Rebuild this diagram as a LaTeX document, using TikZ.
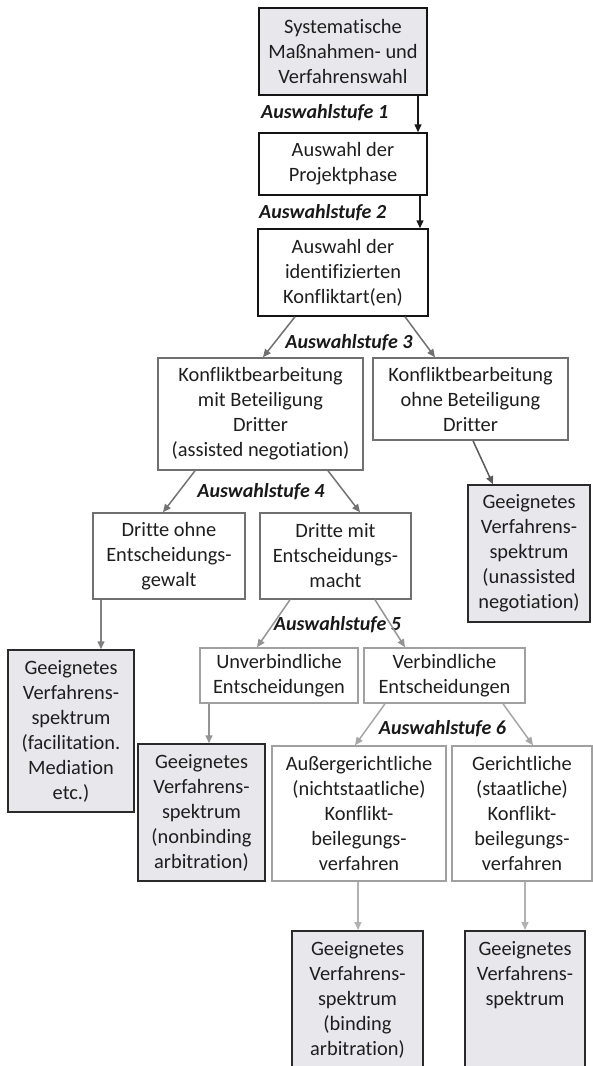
\documentclass[tikz,border=0pt]{standalone}
\usepackage{fontspec}
\setmainfont[Ligatures=NoCommon]{Carlito}
\usetikzlibrary{arrows.meta}
\definecolor{txt}{HTML}{1E1E1E}
\definecolor{fillg}{HTML}{E8E8EC}
\definecolor{midline}{HTML}{707070}
\definecolor{lowline}{HTML}{A0A0A0}
\definecolor{resline}{HTML}{2A2A2A}
\tikzset{
  box/.style={rectangle, align=center, text=txt, font=\fontsize{20.4}{25}\selectfont,
    inner sep=2pt, line width=1.5pt},
  topbox/.style={box, draw=black!92},
  midbox/.style={box, draw=midline},
  lowbox/.style={box, draw=lowline},
  resbox/.style={box, draw=resline, fill=fillg},
  stufe/.style={font=\fontsize{20}{24}\selectfont\bfseries\itshape, text=black!90, inner sep=0pt},
  conn/.style={-{Triangle[length=8pt,width=7pt]}, line width=1.5pt},
}
\begin{document}
\begin{tikzpicture}[x=1pt,y=-1pt]
\useasboundingbox (0,0) rectangle (593,1066);
\clip (0,0) rectangle (593,1066);

% upper chain
\node[topbox, fill=fillg, minimum width=168pt, minimum height=87pt] (b1) at (343,51.5)
  {Systematische\\Maßnahmen- und\\Verfahrenswahl};
\node[topbox, minimum width=168pt, minimum height=62pt] (b2) at (343,164)
  {Auswahl der\\Projektphase};
\node[topbox, minimum width=170pt, minimum height=87pt] (b3) at (343,272.5)
  {Auswahl der\\identifizierten\\Konfliktart(en)};

% level 3
\node[midbox, minimum width=205pt, minimum height=112pt] (b4) at (260.5,414)
  {Konfliktbearbeitung\\mit Beteiligung\\Dritter\\(assisted negotiation)};
\node[midbox, minimum width=195pt, minimum height=82pt] (b5) at (470.5,399)
  {Konfliktbearbeitung\\ohne Beteiligung\\Dritter};
\node[resbox, minimum width=122pt, minimum height=137pt] (b6) at (529,553.5)
  {Geeignetes\\Verfahrens-\\spektrum\\(unassisted\\negotiation)};

% level 4
\node[midbox, minimum width=152pt, minimum height=86pt] (b7) at (169,556)
  {Dritte ohne\\Entscheidungs-\\gewalt};
\node[midbox, minimum width=151pt, minimum height=86pt] (b8) at (335.5,556)
  {Dritte mit\\Entscheidungs-\\macht};
\node[resbox, minimum width=126pt, minimum height=162pt] (b9) at (71,731)
  {Geeignetes\\Verfahrens-\\spektrum\\(facilitation.\\Mediation\\etc.)};

% level 5
\node[lowbox, minimum width=158pt, minimum height=55pt] (b10) at (279,675.5)
  {Unverbindliche\\Entscheidungen};
\node[lowbox, minimum width=161pt, minimum height=55pt] (b11) at (444.5,675.5)
  {Verbindliche\\Entscheidungen};
\node[resbox, minimum width=127pt, minimum height=137pt] (b12) at (201.5,812.5)
  {Geeignetes\\Verfahrens-\\spektrum\\(nonbinding\\arbitration)};

% level 6
\node[lowbox, minimum width=174pt, minimum height=135pt] (b13) at (359,813.5)
  {Außergerichtliche\\(nichtstaatliche)\\Konflikt-\\beilegungs-\\verfahren};
\node[lowbox, minimum width=140pt, minimum height=135pt] (b14) at (522,813.5)
  {Gerichtliche\\(staatliche)\\Konflikt-\\beilegungs-\\verfahren};

% result boxes running off the lower edge
\node[resbox, anchor=north, minimum width=131pt, minimum height=160pt] (b15) at (357.5,930) {};
\node[box, anchor=north, inner sep=0pt] (b15t) at ([yshift=-11pt]b15.north)
  {Geeignetes\\Verfahrens-\\spektrum\\(binding\\arbitration)};
\node[resbox, anchor=north, minimum width=120pt, minimum height=160pt] (b16) at (525,930) {};
\node[box, anchor=north, inner sep=0pt] (b16t) at ([yshift=-11pt]b16.north)
  {Geeignetes\\Verfahrens-\\spektrum};

% selection stage labels
\node[stufe, anchor=west] (s1) at (261,113) {Auswahlstufe 1};
\node[stufe, anchor=west] (s2) at (259,213) {Auswahlstufe 2};
\node[stufe] (s3) at (349,343) {Auswahlstufe 3};
\node[stufe] (s4) at (261,492) {Auswahlstufe 4};
\node[stufe] (s5) at (337.5,625) {Auswahlstufe 5};
\node[stufe] (s6) at (442.5,729) {Auswahlstufe 6};

% connectors
\draw[conn, black!90] ([xshift=75pt]b1.south) -- ([xshift=75pt]b2.north);
\draw[conn, black!90] ([xshift=77pt]b2.south) -- ([xshift=77pt]b3.north);
\draw[conn, draw=midline, fill=midline] ([xshift=-48pt]b3.south) -- ([xshift=2.5pt]b4.north);
\draw[conn, draw=midline, fill=midline] ([xshift=62pt]b3.south) -- ([xshift=-35.5pt]b5.north);
\draw[conn, draw=black!65] ([xshift=2.5pt]b5.south) -- ([xshift=-36pt]b6.north);
\draw[conn, draw=black!55] ([xshift=-65.5pt]b4.south) -- ([xshift=-6pt]b7.north);
\draw[conn, draw=black!55] ([xshift=67.5pt]b4.south) -- ([xshift=24.5pt]b8.north);
\draw[conn, draw=black!50] ([xshift=-68pt]b7.south) -- ([xshift=30pt]b9.north);
\draw[conn, draw=black!42] ([xshift=-45.5pt]b8.south) -- ([xshift=-22pt]b10.north);
\draw[conn, draw=black!42] ([xshift=39.5pt]b8.south) -- ([xshift=-39.5pt]b11.north);
\draw[conn, draw=black!42] ([xshift=-70pt]b10.south) -- ([xshift=7.5pt]b12.north);
\draw[conn, draw=black!35] ([xshift=-59.5pt]b11.south) -- ([xshift=-4pt]b13.north);
\draw[conn, draw=black!35] ([xshift=58.5pt]b11.south) -- ([xshift=11pt]b14.north);
\draw[conn, draw=black!30] ([xshift=-1pt]b13.south) -- ([xshift=0.5pt]b15.north);
\draw[conn, draw=black!30] ([xshift=3pt]b14.south) -- (b16.north);
\end{tikzpicture}
\end{document}
